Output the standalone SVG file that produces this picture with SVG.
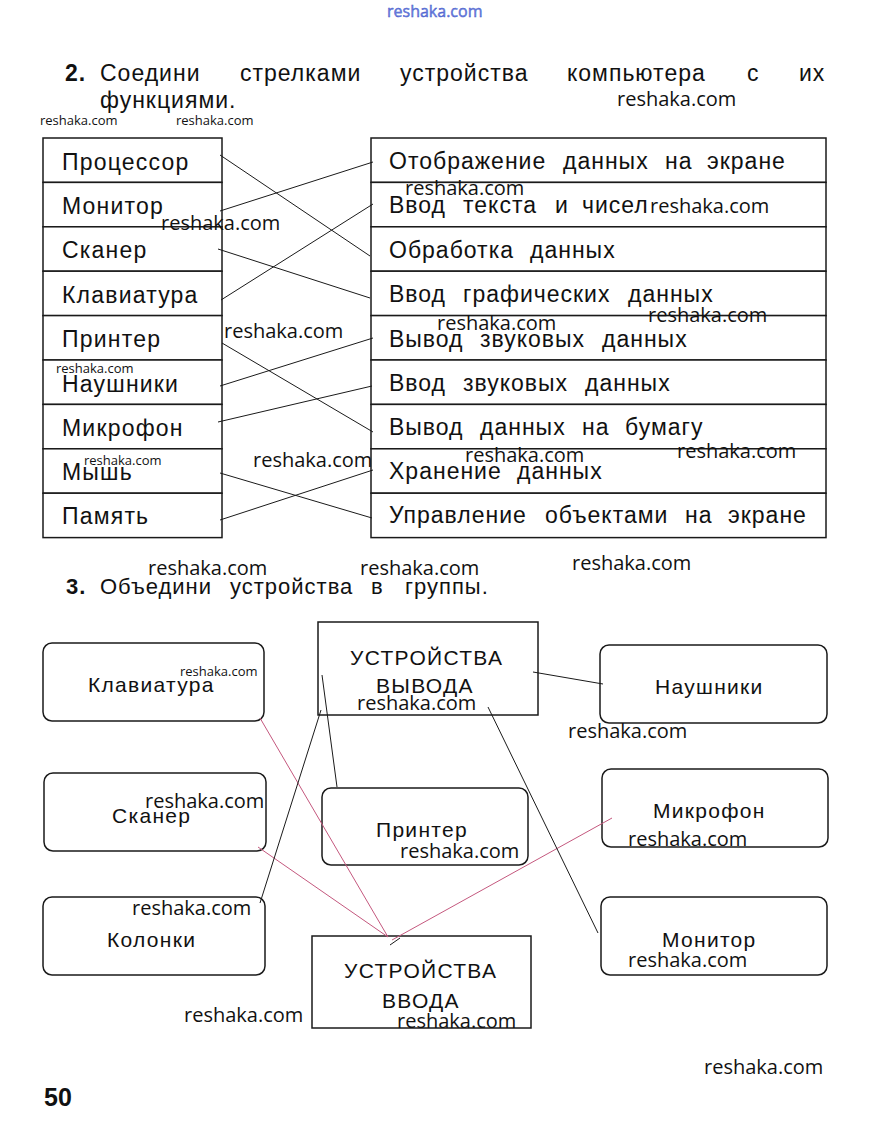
<svg xmlns="http://www.w3.org/2000/svg" width="871" height="1145" viewBox="0 0 871 1145">
<style>
.cell{fill:#fff;stroke:#1a1a1a;stroke-width:1.5}
.box{fill:#fff;stroke:#1a1a1a;stroke-width:1.5}
.lbl{font-family:"Liberation Sans",Arial,sans-serif;font-size:23px;fill:#111;letter-spacing:1.2px}
.rl{font-family:"Liberation Sans",Arial,sans-serif;font-size:23px;fill:#111;letter-spacing:1px}
.bl{font-family:"Liberation Sans",Arial,sans-serif;font-size:21px;fill:#111;letter-spacing:1.3px}
.hd{font-family:"Liberation Sans",Arial,sans-serif;font-size:23px;fill:#111;letter-spacing:1px}
.hd3{font-family:"Liberation Sans",Arial,sans-serif;font-size:22px;fill:#111;letter-spacing:1px}
.wm{font-family:"Open Sans",sans-serif;font-size:20px;fill:#111}
.wms{font-family:"Open Sans",sans-serif;font-size:13px;fill:#111}
.ln{stroke:#1a1a1a;stroke-width:1;fill:none}
.rd{stroke:#c4587e;stroke-width:1;fill:none}
</style>

<!-- top watermark -->
<text x="387" y="17" style="font-family:'Open Sans',sans-serif;font-size:16px;fill:#6f83e0;stroke:#3a52c8;stroke-width:0.4">reshaka.com</text>

<!-- heading 2 -->
<text class="hd" y="81"><tspan x="65" style="font-weight:bold">2.</tspan><tspan x="100">Соедини</tspan><tspan x="240">стрелками</tspan><tspan x="400">устройства</tspan><tspan x="567">компьютера</tspan><tspan x="747">с</tspan><tspan x="799">их</tspan></text>
<text class="hd" x="100" y="108">функциями.</text>

<!-- left table -->
<g id="n-processor"><rect class="cell" x="43" y="138" width="179" height="44.4"/><text class="lbl" x="62" y="170">Процессор</text></g>
<g id="n-monitor"><rect class="cell" x="43" y="182.4" width="179" height="44.4"/><text class="lbl" x="62" y="213.5">Монитор</text></g>
<g id="n-scanner"><rect class="cell" x="43" y="226.8" width="179" height="44.4"/><text class="lbl" x="62" y="258">Сканер</text></g>
<g id="n-keyboard"><rect class="cell" x="43" y="271.2" width="179" height="44.4"/><text class="lbl" x="62" y="302.5">Клавиатура</text></g>
<g id="n-printer"><rect class="cell" x="43" y="315.6" width="179" height="44.4"/><text class="lbl" x="62" y="347">Принтер</text></g>
<g id="n-headphones"><rect class="cell" x="43" y="360" width="179" height="44.4"/><text class="lbl" x="62" y="392">Наушники</text></g>
<g id="n-microphone"><rect class="cell" x="43" y="404.4" width="179" height="44.4"/><text class="lbl" x="62" y="435.5">Микрофон</text></g>
<g id="n-mouse"><rect class="cell" x="43" y="448.8" width="179" height="44.4"/><text class="lbl" x="62" y="480">Мышь</text></g>
<g id="n-memory"><rect class="cell" x="43" y="493.2" width="179" height="44.4"/><text class="lbl" x="62" y="523.5">Память</text></g>

<!-- right table -->
<g id="f-display"><rect class="cell" x="371" y="138" width="455" height="44.4"/><text class="rl" y="169"><tspan x="389">Отображение</tspan><tspan x="563">данных</tspan><tspan x="665">на</tspan><tspan x="707">экране</tspan></text></g>
<g id="f-text"><rect class="cell" x="371" y="182.4" width="455" height="44.4"/><text class="rl" y="213"><tspan x="389">Ввод</tspan><tspan x="463">текста</tspan><tspan x="555">и</tspan><tspan x="582">чисел</tspan></text></g>
<g id="f-process"><rect class="cell" x="371" y="226.8" width="455" height="44.4"/><text class="rl" y="258"><tspan x="389">Обработка</tspan><tspan x="530">данных</tspan></text></g>
<g id="f-graphics"><rect class="cell" x="371" y="271.2" width="455" height="44.4"/><text class="rl" y="302"><tspan x="389">Ввод</tspan><tspan x="463">графических</tspan><tspan x="628">данных</tspan></text></g>
<g id="f-soundout"><rect class="cell" x="371" y="315.6" width="455" height="44.4"/><text class="rl" y="347"><tspan x="389">Вывод</tspan><tspan x="480">звуковых</tspan><tspan x="602">данных</tspan></text></g>
<g id="f-soundin"><rect class="cell" x="371" y="360" width="455" height="44.4"/><text class="rl" y="391"><tspan x="389">Ввод</tspan><tspan x="463">звуковых</tspan><tspan x="585">данных</tspan></text></g>
<g id="f-paper"><rect class="cell" x="371" y="404.4" width="455" height="44.4"/><text class="rl" y="435"><tspan x="389">Вывод</tspan><tspan x="480">данных</tspan><tspan x="582">на</tspan><tspan x="625">бумагу</tspan></text></g>
<g id="f-storage"><rect class="cell" x="371" y="448.8" width="455" height="44.4"/><text class="rl" y="479"><tspan x="389">Хранение</tspan><tspan x="517">данных</tspan></text></g>
<g id="f-control"><rect class="cell" x="371" y="493.2" width="455" height="44.4"/><text class="rl" y="523"><tspan x="389">Управление</tspan><tspan x="545">объектами</tspan><tspan x="685">на</tspan><tspan x="728">экране</tspan></text></g>

<!-- heading 3 -->
<text class="hd3" y="594"><tspan x="66" style="font-weight:bold">3.</tspan><tspan x="100">Объедини</tspan><tspan x="230">устройства</tspan><tspan x="371">в</tspan><tspan x="405">группы.</tspan></text>

<!-- bottom nodes -->
<g id="b-keyboard"><rect class="box" x="43" y="643" width="221" height="78" rx="9"/><text class="bl" x="88" y="692">Клавиатура</text></g>
<g id="b-scanner"><rect class="box" x="44" y="773" width="222" height="78" rx="9"/><text class="bl" x="112" y="823">Сканер</text></g>
<g id="b-speakers"><rect class="box" x="43" y="897" width="222" height="78" rx="9"/><text class="bl" x="107" y="947">Колонки</text></g>
<g id="b-output"><rect class="box" x="318" y="622" width="220" height="93"/><text class="bl" x="350" y="665">УСТРОЙСТВА</text><text class="bl" x="376" y="693">ВЫВОДА</text></g>
<g id="b-printer"><rect class="box" x="322" y="788" width="206" height="77" rx="9"/><text class="bl" x="376" y="837">Принтер</text></g>
<g id="b-input"><rect class="box" x="312" y="936" width="219" height="92"/><text class="bl" x="344" y="978">УСТРОЙСТВА</text><text class="bl" x="382" y="1008">ВВОДА</text></g>
<g id="b-headphones"><rect class="box" x="600" y="645" width="227" height="78" rx="9"/><text class="bl" x="655" y="694">Наушники</text></g>
<g id="b-microphone"><rect class="box" x="602" y="769" width="226" height="78" rx="9"/><text class="bl" x="653" y="818">Микрофон</text></g>
<g id="b-monitor"><rect class="box" x="601" y="897" width="226" height="78" rx="9"/><text class="bl" x="662" y="947">Монитор</text></g>

<!-- connectors -->
<g id="connectors">
<line class="ln" x1="220" y1="155" x2="370" y2="256"/>
<line class="ln" x1="220" y1="211" x2="373" y2="162"/>
<line class="ln" x1="218" y1="249" x2="370" y2="298"/>
<line class="ln" x1="221" y1="300" x2="373" y2="204"/>
<line class="ln" x1="222" y1="343" x2="373" y2="432"/>
<line class="ln" x1="220" y1="386" x2="373" y2="338"/>
<line class="ln" x1="218" y1="422" x2="372" y2="386"/>
<line class="ln" x1="220" y1="473" x2="372" y2="518"/>
<line class="ln" x1="220" y1="520" x2="373" y2="470"/>

<line class="rd" x1="260" y1="718" x2="388" y2="937"/>
<line class="rd" x1="258" y1="847" x2="388" y2="937"/>
<line class="rd" x1="612" y1="818" x2="392" y2="940"/>
<line class="ln" x1="400" y1="938" x2="390" y2="945"/>
<line class="ln" x1="260" y1="903" x2="321" y2="710"/>
<line class="ln" x1="322" y1="675" x2="337" y2="787"/>
<line class="ln" x1="488" y1="707" x2="598" y2="933"/>
<line class="ln" x1="533" y1="672" x2="603" y2="684"/>
</g>

<!-- watermarks -->
<g id="watermarks">
<text class="wm" x="617" y="106">reshaka.com</text>
<text class="wms" x="40" y="125">reshaka.com</text>
<text class="wms" x="176" y="125">reshaka.com</text>
<text class="wm" x="405" y="195">reshaka.com</text>
<text class="wm" x="650" y="213">reshaka.com</text>
<text class="wm" x="161" y="230">reshaka.com</text>
<text class="wm" x="224" y="338">reshaka.com</text>
<text class="wm" x="437" y="330">reshaka.com</text>
<text class="wm" x="648" y="322">reshaka.com</text>
<text class="wms" x="56" y="373">reshaka.com</text>
<text class="wms" x="84" y="465">reshaka.com</text>
<text class="wm" x="253" y="467">reshaka.com</text>
<text class="wm" x="465" y="462">reshaka.com</text>
<text class="wm" x="677" y="458">reshaka.com</text>
<text class="wm" x="148" y="575">reshaka.com</text>
<text class="wm" x="360" y="575">reshaka.com</text>
<text class="wm" x="572" y="570">reshaka.com</text>
<text class="wms" x="180" y="676">reshaka.com</text>
<text class="wm" x="357" y="710">reshaka.com</text>
<text class="wm" x="568" y="738">reshaka.com</text>
<text class="wm" x="145" y="808">reshaka.com</text>
<text class="wm" x="400" y="858">reshaka.com</text>
<text class="wm" x="628" y="846">reshaka.com</text>
<text class="wm" x="132" y="915">reshaka.com</text>
<text class="wm" x="628" y="967">reshaka.com</text>
<text class="wm" x="184" y="1022">reshaka.com</text>
<text class="wm" x="397" y="1028">reshaka.com</text>
<text class="wm" x="704" y="1074">reshaka.com</text>
</g>

<text x="44" y="1106" style="font-family:'Liberation Sans',Arial,sans-serif;font-size:25px;font-weight:bold;fill:#111">50</text>
</svg>
